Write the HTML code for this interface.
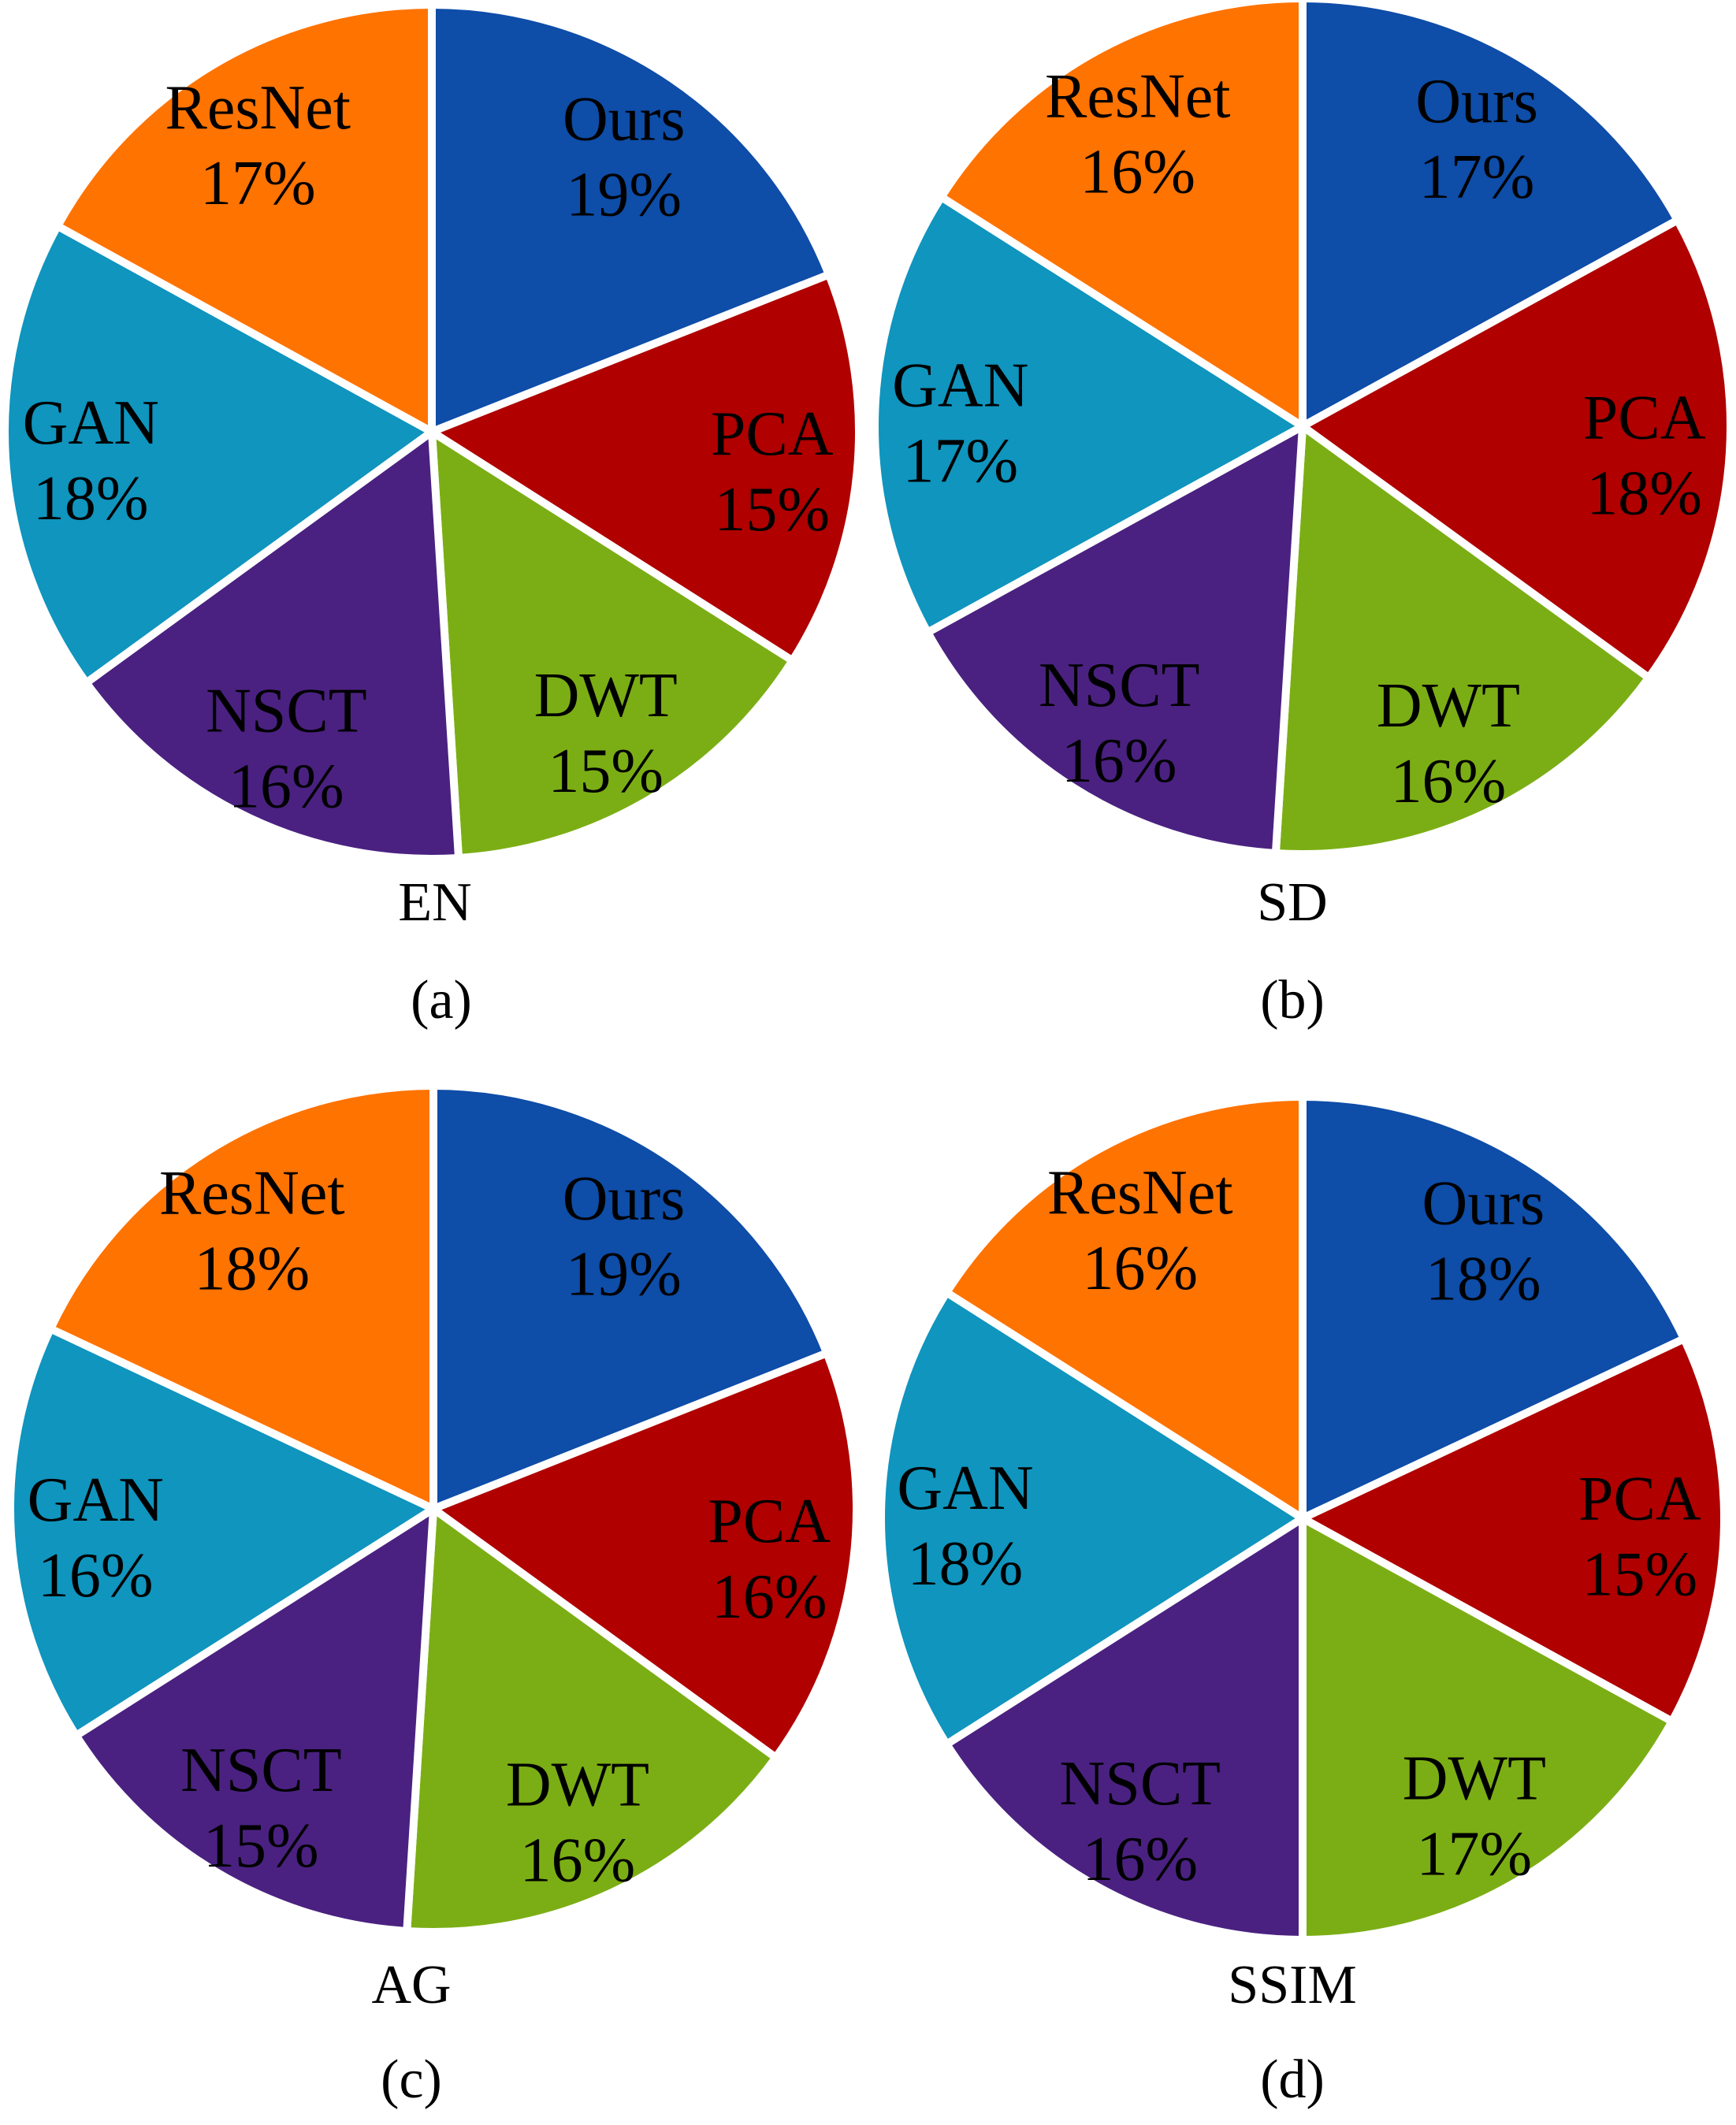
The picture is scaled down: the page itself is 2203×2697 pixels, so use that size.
<!DOCTYPE html>
<html><head><meta charset="utf-8"><style>
html,body{margin:0;padding:0;background:#fff}
svg{display:block}
text{font-family:"Liberation Serif",serif;fill:#000}
</style></head><body>
<svg id="chart" width="2203" height="2697" viewBox="0 0 2203 2697" xmlns="http://www.w3.org/2000/svg"></svg>
<script>
const categories = ["Ours","PCA","DWT","NSCT","GAN","ResNet"];
const colors = ["#0E4DA8","#B00000","#7BAE14","#4A2180","#0F95BE","#FF7300"];
const valuesEN = [19,15,15,16,18,17];
const valuesSD = [17,18,16,16,17,16];
const valuesAG = [19,16,16,15,16,18];
const valuesSSIM = [18,15,17,16,18,16];
const metricNames = ["EN","SD","AG","SSIM"];
const panelLetters = ["(a)","(b)","(c)","(d)"];
const panels = [
  {vals:valuesEN, cx:548, cy:548, r:542, tx:552, ty:1144, lx:560, ly:1268},
  {vals:valuesSD, cx:1653, cy:541, r:543, tx:1640, ty:1144, lx:1640, ly:1268},
  {vals:valuesAG, cx:550, cy:1915, r:537, tx:522, ty:2518, lx:522, ly:2638},
  {vals:valuesSSIM, cx:1653, cy:1927, r:535, tx:1640, ty:2518, lx:1640, ly:2638}
];
const NS="http://www.w3.org/2000/svg";
const svg=document.getElementById('chart');
function pt(cx,cy,r,a){return [cx+r*Math.sin(a), cy-r*Math.cos(a)];}
panels.forEach((p,pi)=>{
  const g=document.createElementNS(NS,'g');
  
  
  svg.appendChild(g);
  const total=p.vals.reduce((a,b)=>a+b,0);
  let a0=0;
  p.vals.forEach((v,i)=>{
    const a1=a0+v/total*2*Math.PI;
    const [x0,y0]=pt(p.cx,p.cy,p.r,a0), [x1,y1]=pt(p.cx,p.cy,p.r,a1);
    const large=(a1-a0)>Math.PI?1:0;
    const path=document.createElementNS(NS,'path');
    path.setAttribute('d',`M${p.cx},${p.cy} L${x0},${y0} A${p.r},${p.r} 0 ${large} 1 ${x1},${y1} Z`);
    path.setAttribute('fill',colors[i]);
    path.setAttribute('stroke','#fff');
    path.setAttribute('stroke-width','10');
    path.setAttribute('stroke-linejoin','round');
    
    
    g.appendChild(path);
    const am=(a0+a1)/2;
    const [lx,ly]=pt(p.cx,p.cy,p.r*0.8,am);
    const t=document.createElementNS(NS,'text');
    t.setAttribute('x',lx);t.setAttribute('y',ly-12);
    t.setAttribute('text-anchor','middle');t.setAttribute('font-size','80');
    t.textContent=categories[i];
    
    
    g.appendChild(t);
    const t2=document.createElementNS(NS,'text');
    t2.setAttribute('x',lx);t2.setAttribute('y',ly+84);
    t2.setAttribute('text-anchor','middle');t2.setAttribute('font-size','80');
    t2.textContent=v+'%';
    
    
    g.appendChild(t2);
    a0=a1;
  });
  const tt=document.createElementNS(NS,'text');
  tt.setAttribute('x',p.tx);tt.setAttribute('y',p.ty+24);
  tt.setAttribute('text-anchor','middle');tt.setAttribute('font-size','70');
  tt.textContent=metricNames[pi];
  
  
  svg.appendChild(tt);
  const pl=document.createElementNS(NS,'text');
  pl.setAttribute('x',p.lx);pl.setAttribute('y',p.ly+24);
  pl.setAttribute('text-anchor','middle');pl.setAttribute('font-size','70');
  pl.textContent=panelLetters[pi];
  
  
  svg.appendChild(pl);
});
</script>
</body></html>
